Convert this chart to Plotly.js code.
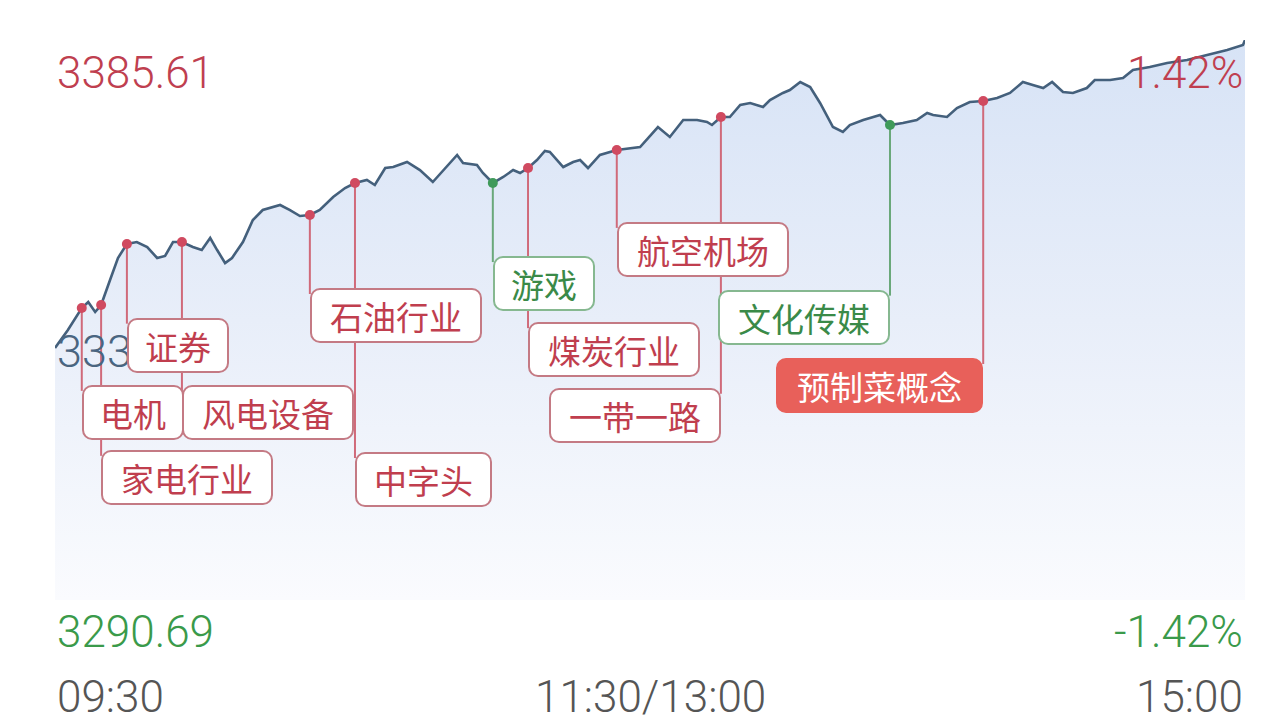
<!DOCTYPE html>
<html>
<head>
<meta charset="utf-8">
<script src="https://cdn.plot.ly/plotly-3.0.1.min.js"></script>
<style>
html,body{margin:0;padding:0;background:#fff;}
#chart{width:1286px;height:726px;}
</style>
</head>
<body>
<div id="chart"></div>
<script>
// ---------- data ----------
const minutes = [0, 2.6, 5.4, 6.7, 8.1, 9.3, 11.1, 12.7, 14.5, 16.5,
  18.6, 20.6, 22.2, 23.8, 25.6, 27.8, 29.6, 31.3, 32.7, 34.3,
  35.7, 37.9, 39.9, 41.9, 45.4, 47.4, 49.4, 51.4, 53.4, 56.1,
  58.5, 60.5, 62.9, 64.5, 66.6, 68.2, 71.0, 73.6, 76.2, 78.3,
  81.1, 82.3, 85.1, 86.3, 88.3, 90.4, 92.4, 93.8, 95.4, 97.2,
  98.8, 99.8, 102.5, 104.5, 105.9, 107.5, 109.9, 113.3, 116.0, 118.0,
  121.6, 124.0, 126.7, 129.5, 131.5, 132.5, 134.3, 136.1, 138.2, 140.2,
  142.8, 144.2, 146.8, 148.2, 150.3, 152.3, 154.3, 156.9, 158.9, 160.3,
  163.0, 166.4, 168.4, 171.0, 173.8, 175.9, 177.1, 179.9, 181.9, 184.5,
  187.2, 190.0, 192.6, 195.2, 197.2, 199.3, 201.1, 203.3, 205.3, 208.1,
  209.7, 212.8, 215.4, 217.4, 220.8, 224.3, 228.3, 232.3, 236.4, 239.6,
  240];
const prices = [3333.40, 3336.45, 3340.18, 3341.20, 3339.51, 3340.69, 3344.93, 3348.66, 3351.03, 3351.37,
  3350.52, 3348.66, 3349.00, 3351.37, 3351.37, 3350.52, 3350.01, 3352.05, 3350.01, 3347.81,
  3348.66, 3351.37, 3355.10, 3356.79, 3357.64, 3356.79, 3355.78, 3355.95, 3356.79, 3359.00,
  3360.52, 3361.37, 3361.88, 3361.03, 3363.91, 3364.08, 3364.93, 3363.57, 3361.54, 3363.57,
  3366.12, 3364.76, 3364.42, 3363.07, 3361.37, 3362.39, 3363.57, 3363.07, 3363.91, 3365.27,
  3366.80, 3366.63, 3364.08, 3364.93, 3365.27, 3363.91, 3366.12, 3366.96, 3367.30, 3367.47,
  3370.86, 3369.17, 3372.05, 3372.05, 3371.71, 3371.20, 3372.56, 3372.56, 3374.59, 3374.93,
  3374.25, 3375.44, 3376.63, 3377.13, 3378.49, 3377.64, 3374.93, 3370.86, 3370.02, 3371.20,
  3372.05, 3372.90, 3371.20, 3371.54, 3372.05, 3373.24, 3372.90, 3372.56, 3374.08, 3375.10,
  3375.27, 3375.78, 3376.63, 3378.49, 3377.98, 3377.47, 3378.49, 3376.80, 3376.63, 3377.47,
  3378.83, 3378.83, 3379.17, 3380.52, 3381.03, 3381.71, 3382.22, 3383.07, 3383.91, 3384.76,
  3385.61];

const yMax = 3385.61;
const yMin = 3290.69;
const prevCloseLabel = '3338.15';
const topLeftLabel = '3385.61';
const topRightLabel = '1.42%';
const bottomLeftLabel = '3290.69';
const bottomRightLabel = '-1.42%';

const timeTicks = [0, 120, 240];
const timeLabels = ['09:30', '11:30/13:00', '15:00'];

const eventNames   = ['电机', '家电行业', '证券', '风电设备', '石油行业', '中字头', '游戏', '煤炭行业', '航空机场', '一带一路', '文化传媒', '预制菜概念'];
const eventMinutes = [5.4, 9.3, 14.5, 25.6, 51.4, 60.5, 88.3, 95.4, 113.3, 134.3, 168.4, 187.2];
const eventKinds   = ['up', 'up', 'up', 'up', 'up', 'up', 'down', 'up', 'up', 'up', 'down', 'hot'];

// ---------- layout of the label boxes (positions only) ----------
const boxLayout = {
  '电机':     {side: 'left',  top: 0.384},
  '家电行业': {side: 'left',  top: 0.268},
  '证券':     {side: 'left',  top: 0.504},
  '风电设备': {side: 'left',  top: 0.384},
  '石油行业': {side: 'left',  top: 0.557},
  '中字头':   {side: 'left',  top: 0.264},
  '游戏':     {side: 'left',  top: 0.614},
  '煤炭行业': {side: 'left',  top: 0.496},
  '航空机场': {side: 'left',  top: 0.675},
  '一带一路': {side: 'right', top: 0.379},
  '文化传媒': {side: 'right', top: 0.554},
  '预制菜概念': {side: 'right', top: 0.432}
};

// ---------- styles ----------
const C = {
  line: '#44607c',
  red: '#bf3f50',
  green: '#3a9a4a',
  gray: '#555555',
  boxRedBorder: '#c47a84',
  boxRedText: '#c03e4e',
  connRed: '#d06a7a',
  markRed: '#d04a60',
  boxGreenBorder: '#86b890',
  boxGreenText: '#3a8a48',
  connGreen: '#6aa87a',
  markGreen: '#3f9a5a',
  hot: '#e8605a'
};
const numFont = 'Roboto, "Noto Sans", sans-serif';
const cjkFont = '"Noto Sans CJK SC", "Noto Sans", sans-serif';

function priceAt(m) { return prices[minutes.indexOf(m)]; }
function paperToPrice(p) { return yMin + p * (yMax - yMin); }

// ---------- traces ----------
const area = {
  x: minutes, y: prices, type: 'scatter', mode: 'lines',
  line: {color: C.line, width: 2.6, shape: 'linear'},
  fill: 'tozeroy',
  fillgradient: {type: 'vertical', start: yMin, stop: yMax,
    colorscale: [[0, '#fafbfe'], [0.5, '#e8eef9'], [1, '#d7e3f6']]},
  hoverinfo: 'skip', cliponaxis: false
};

function connectors(kinds) {
  const xs = [], ys = [];
  eventNames.forEach((n, i) => {
    if (!kinds.includes(eventKinds[i])) return;
    const m = eventMinutes[i];
    xs.push(m, m, null);
    ys.push(priceAt(m), paperToPrice(boxLayout[n].top) - 1, null);
  });
  return {xs, ys};
}
const cr = connectors(['up', 'hot']);
const cg = connectors(['down']);
const connRed = {x: cr.xs, y: cr.ys, type: 'scatter', mode: 'lines',
  line: {color: C.connRed, width: 2}, hoverinfo: 'skip', connectgaps: false};
const connGreen = {x: cg.xs, y: cg.ys, type: 'scatter', mode: 'lines',
  line: {color: C.connGreen, width: 2}, hoverinfo: 'skip', connectgaps: false};

const markers = {
  x: eventMinutes, y: eventMinutes.map(priceAt), type: 'scatter', mode: 'markers',
  marker: {size: 10, color: eventKinds.map(k => k === 'down' ? C.markGreen : C.markRed)},
  hoverinfo: 'skip', cliponaxis: false
};

// ---------- annotations ----------
const ann = [];
function cornerText(text, x, xanchor, y, color) {
  ann.push({xref: 'paper', yref: 'paper', x: x, y: y, xanchor: xanchor, yanchor: 'middle',
    text: text, showarrow: false, font: {family: numFont, size: 44, weight: 300, color: color}});
}
// previous close (partly hidden under label boxes)
ann.push({xref: 'paper', yref: 'paper', x: 0, y: 0.443, xanchor: 'left', yanchor: 'middle',
  text: prevCloseLabel, showarrow: false, font: {family: numFont, size: 45, weight: 300, color: '#4a6580'}});
cornerText(topLeftLabel, 0, 'left', 0.941, C.red);
cornerText(topRightLabel, 1, 'right', 0.941, C.red);
cornerText(bottomLeftLabel, 0, 'left', -0.057, C.green);
cornerText(bottomRightLabel, 1, 'right', -0.057, C.green);
timeTicks.forEach((t, i) => {
  ann.push({xref: 'x', yref: 'paper', x: t, y: -0.173,
    xanchor: i === 0 ? 'left' : (i === timeTicks.length - 1 ? 'right' : 'center'), yanchor: 'middle',
    text: timeLabels[i], showarrow: false, font: {family: numFont, size: 44, weight: 300, color: C.gray}});
});

eventNames.forEach((n, i) => {
  const k = eventKinds[i];
  const L = boxLayout[n];
  const w = n.length * 35 + 32;
  const border = k === 'down' ? C.boxGreenBorder : (k === 'hot' ? C.hot : C.boxRedBorder);
  const txt = k === 'down' ? C.boxGreenText : (k === 'hot' ? '#ffffff' : C.boxRedText);
  const bg = k === 'hot' ? C.hot : '#ffffff';
  ann.push({xref: 'x', yref: 'paper', x: eventMinutes[i], y: L.top,
    xanchor: L.side, yanchor: 'top', text: n, showarrow: false,
    width: w - 8, height: 47, align: 'center', valign: 'middle',
    bgcolor: bg, bordercolor: border, borderwidth: 2, borderpad: 2,
    font: {family: cjkFont, size: 33, color: txt}});
});

const layout = {
  width: 1286, height: 726,
  margin: {l: 55, r: 41, t: 40, b: 126},
  paper_bgcolor: '#ffffff', plot_bgcolor: '#ffffff',
  showlegend: false,
  xaxis: {range: [0, 240], visible: false, fixedrange: true},
  yaxis: {range: [yMin, yMax], visible: false, fixedrange: true},
  annotations: ann,
  hovermode: false
};

Plotly.newPlot('chart', [area, connRed, connGreen, markers], layout, {displayModeBar: false, staticPlot: true})
  .then(() => {
    document.querySelectorAll('.annotation rect.bg').forEach(r => {
      const h = parseFloat(r.getAttribute('height'));
      if (h > 40) { r.setAttribute('rx', 9); r.setAttribute('ry', 9); }
    });
  });
</script>
</body>
</html>
